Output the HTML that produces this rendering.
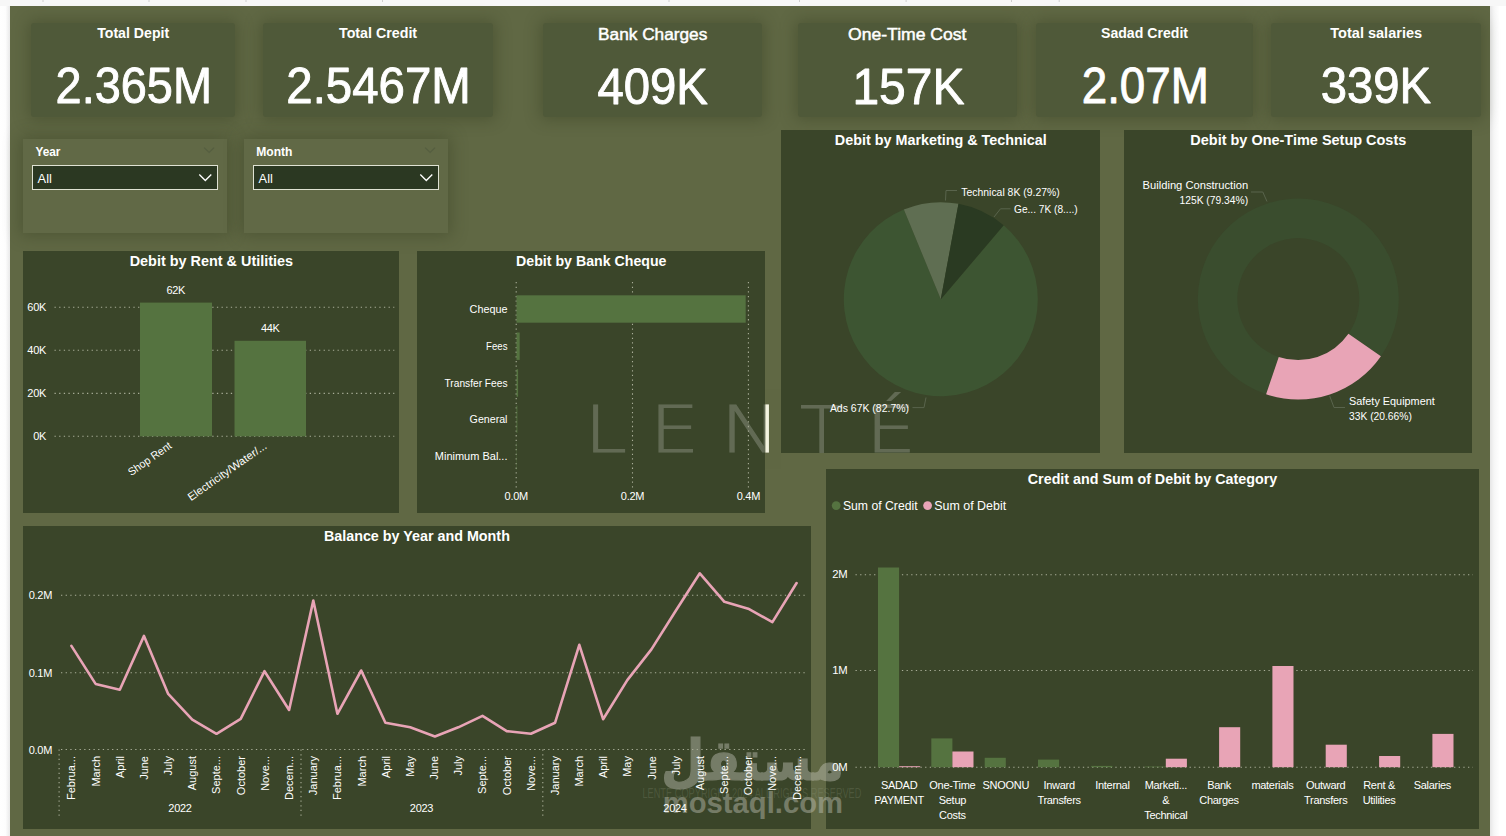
<!DOCTYPE html>
<html lang="en"><head><meta charset="utf-8"><title>Finance Dashboard</title>
<style>
html,body{margin:0;padding:0}
body{width:1506px;height:836px;position:relative;overflow:hidden;background:#fff;font-family:"Liberation Sans", sans-serif}
.abs{position:absolute}
.canvas{left:10px;top:6px;width:1480px;height:830px;background:#606844}
.top{left:0;top:0;width:1506px;height:6px;background:#f7f7f7}
.card{background:#4f5939;border-radius:3px;box-shadow:0 0 15px 3px rgba(48,56,28,.36)}
.slicer{background:#616946;box-shadow:0 0 15px 3px rgba(48,56,28,.36)}
.panel{background:#3a4529}
.dd{background:#2b3822;border:1px solid #dfe2d3;box-sizing:border-box}
svg{position:absolute;left:0;top:0}
svg text{font-family:"Liberation Sans", sans-serif}
.g{stroke:#a9ae98;stroke-width:1.1;stroke-dasharray:1.3 3.34;stroke-linecap:butt}
.s{letter-spacing:-0.3px}
</style></head><body>
<div class="abs top"></div>
<div class="abs" style="left:0;top:6px;width:10px;height:830px;background:linear-gradient(90deg,#fff 0%,#fdfdfd 55%,#e9e9e9 100%)"></div>
<div class="abs" style="left:1490px;top:6px;width:16px;height:830px;background:linear-gradient(90deg,#e6e6e6 0%,#f6f6f6 25%,#fff 60%)"></div>
<div class="abs canvas"></div>

<div class="abs card" style="left:30.7px;top:23px;width:204.8px;height:94px"></div>
<div class="abs card" style="left:263px;top:23px;width:230.0px;height:94px"></div>
<div class="abs card" style="left:543px;top:23px;width:219.0px;height:94px"></div>
<div class="abs card" style="left:798px;top:23px;width:219.0px;height:94px"></div>
<div class="abs card" style="left:1036px;top:23px;width:217.0px;height:94px"></div>
<div class="abs card" style="left:1271px;top:23px;width:210.0px;height:94px"></div>
<div class="abs slicer" style="left:22.8px;top:138.7px;width:204.2px;height:94px"></div>
<div class="abs slicer" style="left:244px;top:138.7px;width:204.0px;height:94px"></div>
<div class="abs dd" style="left:32px;top:164.7px;width:186.0px;height:25px"></div>
<div class="abs dd" style="left:253px;top:164.7px;width:185.8px;height:25px"></div>
<div class="abs panel" style="left:22.7px;top:250.8px;width:376.6px;height:262.2px"></div>
<div class="abs panel" style="left:416.8px;top:250.8px;width:348.7px;height:262.2px"></div>
<div class="abs panel" style="left:780.9px;top:130px;width:319.4px;height:322.8px"></div>
<div class="abs panel" style="left:1123.8px;top:130px;width:348.6px;height:322.8px"></div>
<div class="abs panel" style="left:22.7px;top:525.8px;width:788.3px;height:303.2px"></div>
<div class="abs panel" style="left:826.2px;top:469px;width:653.0px;height:359.8px"></div>
<svg width="1506" height="836" viewBox="0 0 1506 836">
<rect x="42.5" y="0" width="1" height="2" fill="#cfcfcf"/>
<rect x="148.5" y="0" width="1" height="2" fill="#cfcfcf"/>
<rect x="245.5" y="0" width="1" height="2" fill="#cfcfcf"/>
<rect x="382" y="0" width="1" height="2" fill="#cfcfcf"/>
<rect x="668.5" y="0" width="1" height="2" fill="#cfcfcf"/>
<rect x="799" y="0" width="1" height="2" fill="#cfcfcf"/>
<rect x="905.6" y="0" width="1" height="2" fill="#cfcfcf"/>
<rect x="1011" y="0" width="1" height="2" fill="#cfcfcf"/>
<rect x="1058.7" y="0" width="1" height="2" fill="#cfcfcf"/>
<g opacity="0.42">
<text x="752.5" y="780.0" font-size="56" font-weight="bold" text-anchor="middle" fill="#c8c8be" textLength="183.0" lengthAdjust="spacingAndGlyphs" style="font-family:'DejaVu Sans',sans-serif" direction="rtl" stroke="#c8c8be" stroke-width="1.2">مستقل</text>
<text x="662.7" y="812.5" font-size="29" font-weight="bold" text-anchor="start" fill="#c8c8be" textLength="180.3" lengthAdjust="spacingAndGlyphs" >mostaql.com</text>
</g>
<text x="642.4" y="798.0" font-size="15.4" font-weight="normal" text-anchor="start" fill="rgba(150,160,135,0.22)" textLength="219.0" lengthAdjust="spacingAndGlyphs" >LENTE  COPYRIGHT 2024  ALL RIGHTS RESERVED</text>
<defs><clipPath id="gap"><rect x="765.5" y="380" width="15.4" height="90"/></clipPath></defs>
<g opacity="0.2" fill="#fff" stroke="#fff">
<text x="0.0" y="0.0" font-size="64.6" font-weight="200" text-anchor="start" fill="#fff" style="font-family:'DejaVu Sans',sans-serif;font-weight:200" stroke-width="1.0" stroke-linejoin="miter" transform="translate(584.5 451.8) scale(1.177 1)">L</text>
<text x="0.0" y="0.0" font-size="64.6" font-weight="200" text-anchor="start" fill="#fff" style="font-family:'DejaVu Sans',sans-serif;font-weight:200" stroke-width="1.0" stroke-linejoin="miter" transform="translate(649.4 451.8) scale(1.224 1)">E</text>
<text x="0.0" y="0.0" font-size="64.6" font-weight="200" text-anchor="start" fill="#fff" style="font-family:'DejaVu Sans',sans-serif;font-weight:200" stroke-width="1.0" stroke-linejoin="miter" transform="translate(720.2 451.8) scale(1.248 1)">N</text>
<text x="0.0" y="0.0" font-size="64.6" font-weight="200" text-anchor="start" fill="#fff" style="font-family:'DejaVu Sans',sans-serif;font-weight:200" stroke-width="1.0" stroke-linejoin="miter" transform="translate(800.1 451.8) scale(1.1 1)">T</text>
<text x="0.0" y="0.0" font-size="64.6" font-weight="200" text-anchor="start" fill="#fff" style="font-family:'DejaVu Sans',sans-serif;font-weight:200" stroke-width="1.0" stroke-linejoin="miter" transform="translate(865.5 451.8) scale(1.245 1)">É</text>
</g>
<g clip-path="url(#gap)" opacity="0.9" stroke="#ffffee">
<text x="0.0" y="0.0" font-size="64.6" font-weight="200" text-anchor="start" fill="#ffffee" style="font-family:'DejaVu Sans',sans-serif;font-weight:200" stroke-width="1.0" stroke-linejoin="miter" transform="translate(720.2 451.8) scale(1.248 1)">N</text>
</g>
<text x="97.2" y="37.9" font-size="14.3" font-weight="bold" text-anchor="start" fill="#fff" textLength="72.0" lengthAdjust="spacingAndGlyphs" >Total Depit</text>
<text x="55.6" y="103.1" font-size="49.3" font-weight="normal" text-anchor="start" fill="#fff" textLength="156.4" lengthAdjust="spacingAndGlyphs" stroke="#fff" stroke-width="0.9" stroke-linejoin="round">2.365M</text>
<text x="339.0" y="37.9" font-size="14.3" font-weight="bold" text-anchor="start" fill="#fff" textLength="78.1" lengthAdjust="spacingAndGlyphs" >Total Credit</text>
<text x="286.3" y="103.1" font-size="49.3" font-weight="normal" text-anchor="start" fill="#fff" textLength="184.5" lengthAdjust="spacingAndGlyphs" stroke="#fff" stroke-width="0.9" stroke-linejoin="round">2.5467M</text>
<text x="598.1" y="39.8" font-size="16" font-weight="normal" text-anchor="start" fill="#fff" textLength="109.2" lengthAdjust="spacingAndGlyphs" stroke="#fff" stroke-width="0.45">Bank Charges</text>
<text x="597.4" y="104.1" font-size="49.3" font-weight="normal" text-anchor="start" fill="#fff" textLength="110.5" lengthAdjust="spacingAndGlyphs" stroke="#fff" stroke-width="0.9" stroke-linejoin="round">409K</text>
<text x="848.0" y="39.8" font-size="16" font-weight="normal" text-anchor="start" fill="#fff" textLength="118.5" lengthAdjust="spacingAndGlyphs" stroke="#fff" stroke-width="0.45">One-Time Cost</text>
<text x="852.4" y="104.1" font-size="49.3" font-weight="normal" text-anchor="start" fill="#fff" textLength="112.0" lengthAdjust="spacingAndGlyphs" stroke="#fff" stroke-width="0.9" stroke-linejoin="round">157K</text>
<text x="1101.0" y="37.9" font-size="14.3" font-weight="bold" text-anchor="start" fill="#fff" textLength="87.0" lengthAdjust="spacingAndGlyphs" >Sadad Credit</text>
<text x="1081.7" y="103.1" font-size="49.3" font-weight="normal" text-anchor="start" fill="#fff" textLength="127.2" lengthAdjust="spacingAndGlyphs" stroke="#fff" stroke-width="0.9" stroke-linejoin="round">2.07M</text>
<text x="1330.3" y="37.9" font-size="14.3" font-weight="bold" text-anchor="start" fill="#fff" textLength="91.8" lengthAdjust="spacingAndGlyphs" >Total salaries</text>
<text x="1320.7" y="103.1" font-size="49.3" font-weight="normal" text-anchor="start" fill="#fff" textLength="110.3" lengthAdjust="spacingAndGlyphs" stroke="#fff" stroke-width="0.9" stroke-linejoin="round">339K</text>
<text x="35.4" y="156.0" font-size="13.5" font-weight="bold" text-anchor="start" fill="#fff" textLength="25.0" lengthAdjust="spacingAndGlyphs" >Year</text>
<text x="256.2" y="156.0" font-size="13.5" font-weight="bold" text-anchor="start" fill="#fff" textLength="36.3" lengthAdjust="spacingAndGlyphs" >Month</text>
<text x="37.6" y="183.2" font-size="12.5" font-weight="normal" text-anchor="start" fill="#fff" textLength="14.3" lengthAdjust="spacingAndGlyphs" >All</text>
<text x="258.6" y="183.2" font-size="12.5" font-weight="normal" text-anchor="start" fill="#fff" textLength="14.3" lengthAdjust="spacingAndGlyphs" >All</text>
<path d="M199.3 174.5 L205.3 180.5 L211.3 174.5" fill="none" stroke="#fff" stroke-width="1.3"/>
<path d="M204.10000000000002 147.6 L209.10000000000002 152.4 L214.10000000000002 147.6" fill="none" stroke="#555e40" stroke-width="1.2"/>
<path d="M420.3 174.5 L426.3 180.5 L432.3 174.5" fill="none" stroke="#fff" stroke-width="1.3"/>
<path d="M425.1 147.6 L430.1 152.4 L435.1 147.6" fill="none" stroke="#555e40" stroke-width="1.2"/>
<text x="129.7" y="265.9" font-size="15" font-weight="bold" text-anchor="start" fill="#fff" textLength="163.4" lengthAdjust="spacingAndGlyphs" >Debit by Rent &amp; Utilities</text>
<line x1="54.5" x2="394.3" y1="307.3" y2="307.3" class="g"/>
<text x="46.0" y="311.3" font-size="11" font-weight="normal" text-anchor="end" fill="#fff" class="s" >60K</text>
<line x1="54.5" x2="394.3" y1="350.2" y2="350.2" class="g"/>
<text x="46.0" y="354.2" font-size="11" font-weight="normal" text-anchor="end" fill="#fff" class="s" >40K</text>
<line x1="54.5" x2="394.3" y1="393.4" y2="393.4" class="g"/>
<text x="46.0" y="397.4" font-size="11" font-weight="normal" text-anchor="end" fill="#fff" class="s" >20K</text>
<line x1="54.5" x2="394.3" y1="436.3" y2="436.3" class="g"/>
<text x="46.0" y="440.3" font-size="11" font-weight="normal" text-anchor="end" fill="#fff" class="s" >0K</text>
<rect x="140" y="302.6" width="72" height="133.7" fill="#557340"/>
<rect x="234.5" y="340.8" width="71.5" height="95.5" fill="#557340"/>
<text x="175.8" y="293.9" font-size="11" font-weight="normal" text-anchor="middle" fill="#fff" class="s" >62K</text>
<text x="270.3" y="332.0" font-size="11" font-weight="normal" text-anchor="middle" fill="#fff" class="s" >44K</text>
<text x="-50.5" y="0.0" font-size="11" font-weight="normal" text-anchor="start" fill="#fff" textLength="50.5" lengthAdjust="spacingAndGlyphs" transform="translate(172.5 447.4) rotate(-35)">Shop Rent</text>
<text x="-93.5" y="0.0" font-size="11" font-weight="normal" text-anchor="start" fill="#fff" textLength="93.5" lengthAdjust="spacingAndGlyphs" transform="translate(267.5 447.6) rotate(-35)">Electricity/Water/...</text>
<text x="516.1" y="265.9" font-size="15" font-weight="bold" text-anchor="start" fill="#fff" textLength="150.4" lengthAdjust="spacingAndGlyphs" >Debit by Bank Cheque</text>
<line x1="516.2" x2="516.2" y1="282.0" y2="488.0" class="g"/>
<text x="516.2" y="500.3" font-size="11" font-weight="normal" text-anchor="middle" fill="#fff" class="s" >0.0M</text>
<line x1="632.5" x2="632.5" y1="282.0" y2="488.0" class="g"/>
<text x="632.5" y="500.3" font-size="11" font-weight="normal" text-anchor="middle" fill="#fff" class="s" >0.2M</text>
<line x1="748.4" x2="748.4" y1="282.0" y2="488.0" class="g"/>
<text x="748.4" y="500.3" font-size="11" font-weight="normal" text-anchor="middle" fill="#fff" class="s" >0.4M</text>
<rect x="516.5" y="295.3" width="229.2" height="27.4" fill="#557340"/>
<text x="469.6" y="313.0" font-size="11" font-weight="normal" text-anchor="start" fill="#fff" textLength="37.9" lengthAdjust="spacingAndGlyphs" >Cheque</text>
<rect x="516.5" y="332.5" width="3.2" height="27.4" fill="#557340"/>
<text x="486.1" y="350.2" font-size="11" font-weight="normal" text-anchor="start" fill="#fff" textLength="21.4" lengthAdjust="spacingAndGlyphs" >Fees</text>
<rect x="516.5" y="369.3" width="1.6" height="27.4" fill="#557340"/>
<text x="444.5" y="387.0" font-size="11" font-weight="normal" text-anchor="start" fill="#fff" textLength="63.0" lengthAdjust="spacingAndGlyphs" >Transfer Fees</text>
<rect x="516.5" y="405.5" width="0.8" height="27.4" fill="#557340"/>
<text x="469.6" y="423.2" font-size="11" font-weight="normal" text-anchor="start" fill="#fff" textLength="37.9" lengthAdjust="spacingAndGlyphs" >General</text>
<rect x="516.5" y="442.3" width="0.3" height="27.4" fill="#557340"/>
<text x="434.8" y="460.0" font-size="11" font-weight="normal" text-anchor="start" fill="#fff" textLength="72.7" lengthAdjust="spacingAndGlyphs" >Minimum Bal...</text>
<text x="940.8" y="145.0" font-size="15" font-weight="bold" text-anchor="middle" fill="#fff" textLength="212.0" lengthAdjust="spacingAndGlyphs" >Debit by Marketing &amp; Technical</text>
<path d="M940.8 299.2 L1003.67 225.33 A97 97 0 1 1 903.84 209.52 Z" fill="#3d5532"/>
<path d="M940.8 299.2 L903.84 209.52 A97 97 0 0 1 958.48 203.82 Z" fill="#5f6e52"/>
<path d="M940.8 299.2 L958.48 203.82 A97 97 0 0 1 1003.67 225.33 Z" fill="#2a3a22"/>
<polyline points="945.5,200.5 946,190.5 957,190.5" fill="none" stroke="#59644c" stroke-width="1"/>
<polyline points="994,217 1000.5,208.8 1010.5,208.8" fill="none" stroke="#59644c" stroke-width="1"/>
<polyline points="926,397.5 924,407.6 912.5,407.6" fill="none" stroke="#59644c" stroke-width="1"/>
<text x="961.3" y="196.0" font-size="11" font-weight="normal" text-anchor="start" fill="#fff" textLength="98.4" lengthAdjust="spacingAndGlyphs" >Technical 8K (9.27%)</text>
<text x="1014.0" y="213.2" font-size="11" font-weight="normal" text-anchor="start" fill="#fff" textLength="63.7" lengthAdjust="spacingAndGlyphs" >Ge... 7K (8....)</text>
<text x="829.9" y="412.0" font-size="11" font-weight="normal" text-anchor="start" fill="#fff" textLength="79.1" lengthAdjust="spacingAndGlyphs" >Ads 67K (82.7%)</text>
<text x="1298.3" y="145.0" font-size="15" font-weight="bold" text-anchor="middle" fill="#fff" textLength="216.0" lengthAdjust="spacingAndGlyphs" >Debit by One-Time Setup Costs</text>
<path d="M1266.08 394.29 A100.5 100.5 0 1 1 1380.93 356.31 L1348.45 333.83 A61 61 0 1 0 1278.74 356.88 Z" fill="#3a4d2e"/>
<path d="M1380.93 356.31 A100.5 100.5 0 0 1 1266.08 394.29 L1278.74 356.88 A61 61 0 0 0 1348.45 333.83 Z" fill="#e8a4b6"/>
<polyline points="1267,201.5 1262.8,192 1251,192" fill="none" stroke="#59644c" stroke-width="1"/>
<polyline points="1329.7,396 1334,407.5 1345,407.5" fill="none" stroke="#59644c" stroke-width="1"/>
<text x="1142.6" y="189.3" font-size="11" font-weight="normal" text-anchor="start" fill="#fff" textLength="105.5" lengthAdjust="spacingAndGlyphs" >Building Construction</text>
<text x="1179.5" y="204.0" font-size="11" font-weight="normal" text-anchor="start" fill="#fff" textLength="68.6" lengthAdjust="spacingAndGlyphs" >125K (79.34%)</text>
<text x="1349.0" y="404.8" font-size="11" font-weight="normal" text-anchor="start" fill="#fff" textLength="85.8" lengthAdjust="spacingAndGlyphs" >Safety Equipment</text>
<text x="1349.0" y="419.9" font-size="11" font-weight="normal" text-anchor="start" fill="#fff" textLength="62.8" lengthAdjust="spacingAndGlyphs" >33K (20.66%)</text>
<text x="416.9" y="541.0" font-size="15" font-weight="bold" text-anchor="middle" fill="#fff" textLength="186.0" lengthAdjust="spacingAndGlyphs" >Balance by Year and Month</text>
<line x1="61.0" x2="806.0" y1="595.2" y2="595.2" class="g"/>
<text x="52.0" y="599.2" font-size="11" font-weight="normal" text-anchor="end" fill="#fff" class="s" >0.2M</text>
<line x1="61.0" x2="806.0" y1="672.8" y2="672.8" class="g"/>
<text x="52.0" y="676.8" font-size="11" font-weight="normal" text-anchor="end" fill="#fff" class="s" >0.1M</text>
<line x1="61.0" x2="806.0" y1="749.5" y2="749.5" class="g"/>
<text x="52.0" y="753.5" font-size="11" font-weight="normal" text-anchor="end" fill="#fff" class="s" >0.0M</text>
<polyline points="71.4,645.9 95.6,683.9 119.8,689.7 144.0,635.9 168.2,693.9 192.3,719.6 216.5,733.8 240.7,718.8 264.5,671.2 289.1,710.0 313.3,600.6 337.4,713.8 361.2,670.5 385.4,722.7 410.2,727.3 434.9,736.5 458.3,727.3 482.5,715.8 506.7,731.1 530.9,733.8 555.1,722.7 579.3,644.8 603.1,719.2 627.3,680.1 651.4,649.4 675.6,611.0 699.8,573.3 724.4,601.8 748.2,608.7 772.4,622.1 796.6,583.0" fill="none" stroke="#e8a4b6" stroke-width="2.6" stroke-linejoin="round" stroke-linecap="round"/>
<text x="75.4" y="756.0" font-size="11" font-weight="normal" text-anchor="end" fill="#fff" transform="rotate(-90 75.4 756)">Februa...</text>
<text x="99.6" y="756.0" font-size="11" font-weight="normal" text-anchor="end" fill="#fff" transform="rotate(-90 99.6 756)">March</text>
<text x="123.7" y="756.0" font-size="11" font-weight="normal" text-anchor="end" fill="#fff" transform="rotate(-90 123.7 756)">April</text>
<text x="147.9" y="756.0" font-size="11" font-weight="normal" text-anchor="end" fill="#fff" transform="rotate(-90 147.9 756)">June</text>
<text x="172.1" y="756.0" font-size="11" font-weight="normal" text-anchor="end" fill="#fff" transform="rotate(-90 172.1 756)">July</text>
<text x="196.3" y="756.0" font-size="11" font-weight="normal" text-anchor="end" fill="#fff" transform="rotate(-90 196.3 756)">August</text>
<text x="220.4" y="756.0" font-size="11" font-weight="normal" text-anchor="end" fill="#fff" transform="rotate(-90 220.4 756)">Septe...</text>
<text x="244.6" y="756.0" font-size="11" font-weight="normal" text-anchor="end" fill="#fff" transform="rotate(-90 244.6 756)">October</text>
<text x="268.8" y="756.0" font-size="11" font-weight="normal" text-anchor="end" fill="#fff" transform="rotate(-90 268.8 756)">Nove...</text>
<text x="293.0" y="756.0" font-size="11" font-weight="normal" text-anchor="end" fill="#fff" transform="rotate(-90 293.0 756)">Decem...</text>
<text x="317.1" y="756.0" font-size="11" font-weight="normal" text-anchor="end" fill="#fff" transform="rotate(-90 317.1 756)">January</text>
<text x="341.3" y="756.0" font-size="11" font-weight="normal" text-anchor="end" fill="#fff" transform="rotate(-90 341.3 756)">Februa...</text>
<text x="365.5" y="756.0" font-size="11" font-weight="normal" text-anchor="end" fill="#fff" transform="rotate(-90 365.5 756)">March</text>
<text x="389.7" y="756.0" font-size="11" font-weight="normal" text-anchor="end" fill="#fff" transform="rotate(-90 389.7 756)">April</text>
<text x="413.8" y="756.0" font-size="11" font-weight="normal" text-anchor="end" fill="#fff" transform="rotate(-90 413.8 756)">May</text>
<text x="438.0" y="756.0" font-size="11" font-weight="normal" text-anchor="end" fill="#fff" transform="rotate(-90 438.0 756)">June</text>
<text x="462.2" y="756.0" font-size="11" font-weight="normal" text-anchor="end" fill="#fff" transform="rotate(-90 462.2 756)">July</text>
<text x="486.3" y="756.0" font-size="11" font-weight="normal" text-anchor="end" fill="#fff" transform="rotate(-90 486.3 756)">Septe...</text>
<text x="510.5" y="756.0" font-size="11" font-weight="normal" text-anchor="end" fill="#fff" transform="rotate(-90 510.5 756)">October</text>
<text x="534.7" y="756.0" font-size="11" font-weight="normal" text-anchor="end" fill="#fff" transform="rotate(-90 534.7 756)">Nove...</text>
<text x="558.9" y="756.0" font-size="11" font-weight="normal" text-anchor="end" fill="#fff" transform="rotate(-90 558.9 756)">January</text>
<text x="583.0" y="756.0" font-size="11" font-weight="normal" text-anchor="end" fill="#fff" transform="rotate(-90 583.0 756)">March</text>
<text x="607.2" y="756.0" font-size="11" font-weight="normal" text-anchor="end" fill="#fff" transform="rotate(-90 607.2 756)">April</text>
<text x="631.4" y="756.0" font-size="11" font-weight="normal" text-anchor="end" fill="#fff" transform="rotate(-90 631.4 756)">May</text>
<text x="655.6" y="756.0" font-size="11" font-weight="normal" text-anchor="end" fill="#fff" transform="rotate(-90 655.6 756)">June</text>
<text x="679.7" y="756.0" font-size="11" font-weight="normal" text-anchor="end" fill="#fff" transform="rotate(-90 679.7 756)">July</text>
<text x="703.9" y="756.0" font-size="11" font-weight="normal" text-anchor="end" fill="#fff" transform="rotate(-90 703.9 756)">August</text>
<text x="728.1" y="756.0" font-size="11" font-weight="normal" text-anchor="end" fill="#fff" transform="rotate(-90 728.1 756)">Septe...</text>
<text x="752.3" y="756.0" font-size="11" font-weight="normal" text-anchor="end" fill="#fff" transform="rotate(-90 752.3 756)">October</text>
<text x="776.4" y="756.0" font-size="11" font-weight="normal" text-anchor="end" fill="#fff" transform="rotate(-90 776.4 756)">Nove...</text>
<text x="800.6" y="756.0" font-size="11" font-weight="normal" text-anchor="end" fill="#fff" transform="rotate(-90 800.6 756)">Decem...</text>
<line x1="59.1" x2="59.1" y1="749.5" y2="819.0" class="g"/>
<line x1="301.0" x2="301.0" y1="749.5" y2="819.0" class="g"/>
<line x1="542.8" x2="542.8" y1="749.5" y2="819.0" class="g"/>
<text x="180.0" y="812.0" font-size="11" font-weight="normal" text-anchor="middle" fill="#fff" class="s" >2022</text>
<text x="421.5" y="812.0" font-size="11" font-weight="normal" text-anchor="middle" fill="#fff" class="s" >2023</text>
<text x="675.0" y="812.0" font-size="11" font-weight="normal" text-anchor="middle" fill="#fff" class="s" >2024</text>
<text x="1027.8" y="484.0" font-size="15" font-weight="bold" text-anchor="start" fill="#fff" textLength="249.4" lengthAdjust="spacingAndGlyphs" >Credit and Sum of Debit by Category</text>
<circle cx="836.2" cy="505.6" r="4.4" fill="#557340"/>
<text x="842.9" y="509.8" font-size="12.5" font-weight="normal" text-anchor="start" fill="#fff" textLength="74.7" lengthAdjust="spacingAndGlyphs" >Sum of Credit</text>
<circle cx="927.6" cy="505.6" r="4.4" fill="#e8a4b6"/>
<text x="934.2" y="509.8" font-size="12.5" font-weight="normal" text-anchor="start" fill="#fff" textLength="72.0" lengthAdjust="spacingAndGlyphs" >Sum of Debit</text>
<line x1="855.5" x2="1473.0" y1="574.7" y2="574.7" class="g"/>
<text x="847.4" y="578.2" font-size="11.3" font-weight="normal" text-anchor="end" fill="#fff" class="s" >2M</text>
<line x1="855.5" x2="1473.0" y1="670.5" y2="670.5" class="g"/>
<text x="847.4" y="674.0" font-size="11.3" font-weight="normal" text-anchor="end" fill="#fff" class="s" >1M</text>
<line x1="855.5" x2="1473.0" y1="767.2" y2="767.2" class="g"/>
<text x="847.4" y="770.7" font-size="11.3" font-weight="normal" text-anchor="end" fill="#fff" class="s" >0M</text>
<rect x="878.0" y="567.5" width="21.1" height="199.7" fill="#557340"/>
<rect x="899.1" y="766.2" width="21.1" height="1.0" fill="#e8a4b6"/>
<rect x="931.3" y="738.4" width="21.1" height="28.8" fill="#557340"/>
<rect x="952.4" y="751.5" width="21.1" height="15.7" fill="#e8a4b6"/>
<rect x="984.7" y="757.8" width="21.1" height="9.4" fill="#557340"/>
<rect x="1038.0" y="759.6" width="21.1" height="7.6" fill="#557340"/>
<rect x="1091.3" y="765.9" width="21.1" height="1.3" fill="#557340"/>
<rect x="1144.7" y="766.6" width="21.1" height="0.6" fill="#557340"/>
<rect x="1165.8" y="758.7" width="21.1" height="8.5" fill="#e8a4b6"/>
<rect x="1219.1" y="727.2" width="21.1" height="40.0" fill="#e8a4b6"/>
<rect x="1272.4" y="666" width="21.1" height="101.2" fill="#e8a4b6"/>
<rect x="1325.7" y="744.7" width="21.1" height="22.5" fill="#e8a4b6"/>
<rect x="1379.1" y="756" width="21.1" height="11.2" fill="#e8a4b6"/>
<rect x="1432.4" y="733.9" width="21.1" height="33.3" fill="#e8a4b6"/>
<text x="899.1" y="788.8" font-size="11" font-weight="normal" text-anchor="middle" fill="#fff" class="s" >SADAD</text>
<text x="899.1" y="803.8" font-size="11" font-weight="normal" text-anchor="middle" fill="#fff" class="s" >PAYMENT</text>
<text x="952.4" y="788.8" font-size="11" font-weight="normal" text-anchor="middle" fill="#fff" class="s" >One-Time</text>
<text x="952.4" y="803.8" font-size="11" font-weight="normal" text-anchor="middle" fill="#fff" class="s" >Setup</text>
<text x="952.4" y="818.8" font-size="11" font-weight="normal" text-anchor="middle" fill="#fff" class="s" >Costs</text>
<text x="1005.8" y="788.8" font-size="11" font-weight="normal" text-anchor="middle" fill="#fff" class="s" >SNOONU</text>
<text x="1059.1" y="788.8" font-size="11" font-weight="normal" text-anchor="middle" fill="#fff" class="s" >Inward</text>
<text x="1059.1" y="803.8" font-size="11" font-weight="normal" text-anchor="middle" fill="#fff" class="s" >Transfers</text>
<text x="1112.4" y="788.8" font-size="11" font-weight="normal" text-anchor="middle" fill="#fff" class="s" >Internal</text>
<text x="1165.8" y="788.8" font-size="11" font-weight="normal" text-anchor="middle" fill="#fff" class="s" >Marketi...</text>
<text x="1165.8" y="803.8" font-size="11" font-weight="normal" text-anchor="middle" fill="#fff" class="s" >&amp;</text>
<text x="1165.8" y="818.8" font-size="11" font-weight="normal" text-anchor="middle" fill="#fff" class="s" >Technical</text>
<text x="1219.1" y="788.8" font-size="11" font-weight="normal" text-anchor="middle" fill="#fff" class="s" >Bank</text>
<text x="1219.1" y="803.8" font-size="11" font-weight="normal" text-anchor="middle" fill="#fff" class="s" >Charges</text>
<text x="1272.4" y="788.8" font-size="11" font-weight="normal" text-anchor="middle" fill="#fff" class="s" >materials</text>
<text x="1325.7" y="788.8" font-size="11" font-weight="normal" text-anchor="middle" fill="#fff" class="s" >Outward</text>
<text x="1325.7" y="803.8" font-size="11" font-weight="normal" text-anchor="middle" fill="#fff" class="s" >Transfers</text>
<text x="1379.1" y="788.8" font-size="11" font-weight="normal" text-anchor="middle" fill="#fff" class="s" >Rent &amp;</text>
<text x="1379.1" y="803.8" font-size="11" font-weight="normal" text-anchor="middle" fill="#fff" class="s" >Utilities</text>
<text x="1432.4" y="788.8" font-size="11" font-weight="normal" text-anchor="middle" fill="#fff" class="s" >Salaries</text>
</svg>
</body></html>
